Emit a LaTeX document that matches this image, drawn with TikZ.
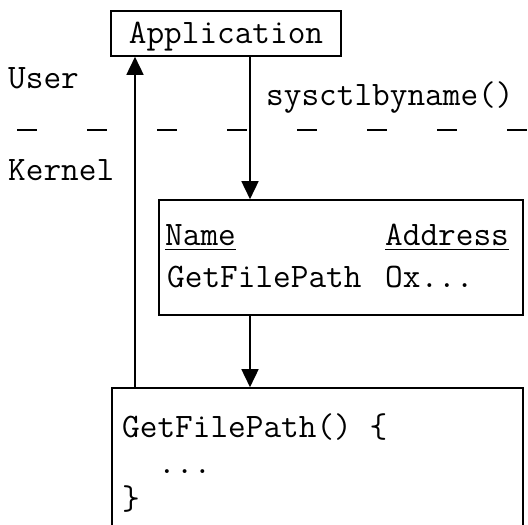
\documentclass[tikz,border=0pt]{standalone}
\usepackage{tikz}
\usetikzlibrary{arrows.meta}

\begin{document}
\begin{tikzpicture}[x=1pt, y=-1pt]
    \tikzset{box/.style = {shape=rectangle, draw, line width=1.6pt, inner sep=0pt}}
    \tikzset{txt/.style = {inner sep=0pt, anchor=base west, font=\ttfamily\fontsize{34.3}{36}\selectfont}}
    \tikzset{edge/.style = {-{Triangle[length=18pt,width=17pt]}, line width=1.6pt}}
    \tikzset{divider/.style = {line width=1.6pt, dash pattern=on 20pt off 50pt}}

    \clip (0, 0) rectangle (528, 525);

    % boxes
    \node[box, minimum width=230pt, minimum height=45pt, font=\ttfamily\fontsize{34.3}{36}\selectfont,
          text height=21pt, text depth=2pt] (app) at (226, 33.5) {Application};
    \node[box, minimum width=364pt, minimum height=115pt] (table) at (341, 257.5) {};
    \node[box, minimum width=411pt, minimum height=160pt] (func) at (317.5, 468) {};

    % user / kernel split
    \coordinate (divl) at (17, 130);
    \coordinate (divr) at (528, 130);
    \draw[divider] (divl) -- (divr);
    \node[txt] (user) at (8, 88) {User};
    \node[txt] (kernel) at (8, 180) {Kernel};

    % table contents
    \node[txt] (hdname) at (165, 245) {\underline{Name\rule[-3pt]{0pt}{0pt}}};
    \node[txt] (hdaddr) at (385, 245) {\underline{Address\rule[-3pt]{0pt}{0pt}}};
    \node[txt] (rowname) at (167, 287) {GetFilePath};
    \node[txt] (rowaddr) at (385, 287) {Ox...};

    % function body
    \node[txt] (code1) at (122, 437) {GetFilePath() \{};
    \node[txt] (code2) at (158, 473) {...};
    \node[txt] (code3) at (122, 509) {\}};

    % calls
    \coordinate (down) at (250, 0);
    \coordinate (up) at (135, 0);
    \draw[edge] (app.south -| down) -- (table.north -| down);
    \node[txt] (call) at (266, 105) {sysctlbyname()};
    \draw[edge] (table.south -| down) -- (func.north -| down);
    \draw[edge] (func.north -| up) -- (app.south -| up);

\end{tikzpicture}
\end{document}
